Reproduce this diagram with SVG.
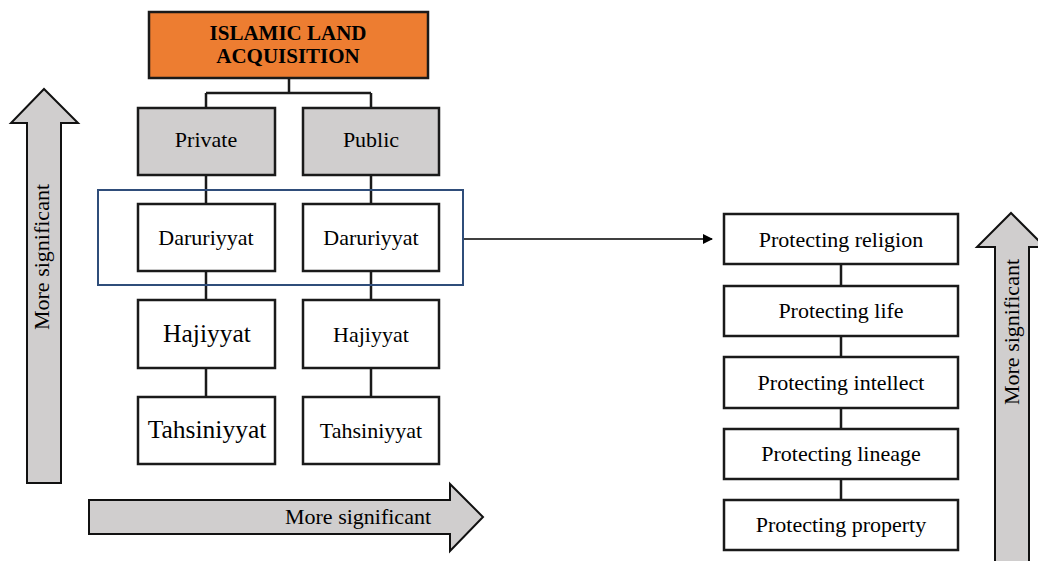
<svg xmlns="http://www.w3.org/2000/svg" width="1038" height="561" viewBox="0 0 1038 561">
<defs>
<style>
.box{fill:#fff;stroke:#1a1a1a;stroke-width:2.5}
.grey{fill:#d0cece;stroke:#1a1a1a;stroke-width:2.5}
.orange{fill:#ed7d31;stroke:#1a1a1a;stroke-width:2.5}
.arr{fill:#d0cece;stroke:#111;stroke-width:2}
.t{font-size:22px;fill:#000;text-anchor:middle}
.tb{font-weight:bold;font-size:21px}
.big{font-size:25.5px}
.con{fill:none;stroke:#1a1a1a;stroke-width:2.5}
</style>
<marker id="ah" markerWidth="10" markerHeight="10" refX="9" refY="5" orient="auto" markerUnits="userSpaceOnUse">
<path d="M0,0 L10,5 L0,10 Z" fill="#000"/>
</marker>
</defs>
<rect width="1038" height="561" fill="#fff"/>

<g id="connectors">
<path class="con" d="M289,78 V93 M206,93 H371 M206,93 V108 M371,93 V108"/>
<path class="con" d="M206,175 V204 M371,175 V204 M206,271 V300 M371,271 V300 M206,368 V397 M371,368 V397"/>
<path class="con" d="M841,264 V286 M841,336 V357 M841,408 V429 M841,479 V500"/>
<line x1="463" y1="239" x2="712" y2="239" stroke="#000" stroke-width="1.5" marker-end="url(#ah)"/>
</g>

<g font-family="Liberation Serif, Times New Roman, DejaVu Serif, serif">
<g id="arrow-left">
<path class="arr" d="M27,483 V123 H11 L44,89 L78,123 H61 V483 Z"/>
<text class="t" transform="translate(49,257) rotate(-90)">More significant</text>
</g>
<g id="arrow-bottom">
<path class="arr" d="M89,500 H450 V484 L483,517 L450,551 V534 H89 Z"/>
<text class="t" x="358" y="524">More significant</text>
</g>
<g id="arrow-right">
<path class="arr" d="M995,565 V247 H977 L1011,213 L1045,247 H1029 V565 Z"/>
<text class="t" transform="translate(1019,332) rotate(-90)">More significant</text>
</g>

<g id="title">
<rect class="orange" x="149" y="12" width="279" height="66"/>
<text class="t tb" x="288" y="40">ISLAMIC LAND</text>
<text class="t tb" x="288" y="63">ACQUISITION</text>
</g>
<g id="private">
<rect class="grey" x="138" y="108" width="137" height="67"/>
<text class="t" x="206" y="147">Private</text>
</g>
<g id="public">
<rect class="grey" x="303" y="108" width="136" height="67"/>
<text class="t" x="371" y="147">Public</text>
</g>

<g id="daruriyyat-group">
<rect x="98" y="190" width="365" height="95" fill="none" stroke="#2f4d7a" stroke-width="2"/>
</g>
<g id="daruriyyat-private">
<rect class="box" x="138" y="204" width="137" height="67"/>
<text class="t" x="206" y="245">Daruriyyat</text>
</g>
<g id="daruriyyat-public">
<rect class="box" x="303" y="204" width="136" height="67"/>
<text class="t" x="371" y="245">Daruriyyat</text>
</g>
<g id="hajiyyat-private">
<rect class="box" x="138" y="300" width="137" height="68"/>
<text class="t big" x="207" y="342">Hajiyyat</text>
</g>
<g id="hajiyyat-public">
<rect class="box" x="303" y="300" width="136" height="68"/>
<text class="t" x="371" y="342">Hajiyyat</text>
</g>
<g id="tahsiniyyat-private">
<rect class="box" x="138" y="397" width="137" height="67"/>
<text class="t big" x="207" y="438">Tahsiniyyat</text>
</g>
<g id="tahsiniyyat-public">
<rect class="box" x="303" y="397" width="136" height="67"/>
<text class="t" x="371" y="438">Tahsiniyyat</text>
</g>

<g id="religion">
<rect class="box" x="724" y="214" width="234" height="50"/>
<text class="t" x="841" y="247">Protecting religion</text>
</g>
<g id="life">
<rect class="box" x="724" y="286" width="234" height="50"/>
<text class="t" x="841" y="318">Protecting life</text>
</g>
<g id="intellect">
<rect class="box" x="724" y="357" width="234" height="51"/>
<text class="t" x="841" y="390">Protecting intellect</text>
</g>
<g id="lineage">
<rect class="box" x="724" y="429" width="234" height="50"/>
<text class="t" x="841" y="461">Protecting lineage</text>
</g>
<g id="property">
<rect class="box" x="724" y="500" width="234" height="50"/>
<text class="t" x="841" y="532">Protecting property</text>
</g>
</g>
</svg>
